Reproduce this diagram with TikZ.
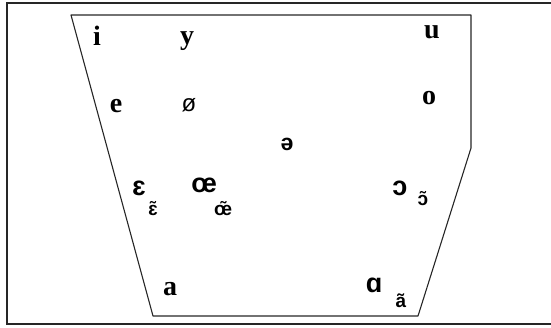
\documentclass[tikz,border=0pt]{standalone}
\usepackage{fontspec}
\setmainfont{Liberation Serif}
\newfontfamily\ipasans{Liberation Sans}
\begin{document}
\begin{tikzpicture}[x=1pt,y=-1pt,
  serifv/.style={anchor=base,inner sep=0pt,font=\fontsize{28}{30}\selectfont\bfseries},
  sansv/.style={anchor=base,inner sep=0pt,font=\ipasans\fontsize{27}{30}\selectfont\bfseries},
  schwa/.style={anchor=base,inner sep=0pt,font=\ipasans\fontsize{23}{25}\selectfont\bfseries},
  oslash/.style={anchor=base,inner sep=0pt,font=\ipasans\fontsize{24}{26}\selectfont},
  nasal/.style={anchor=base,inner sep=0pt,font=\ipasans\fontsize{19}{21}\selectfont\bfseries},
  quad/.style={draw=black!85,line width=1.1pt,line join=round},
  frame/.style={draw=black!85,line width=1.5pt}]
\useasboundingbox (0,0) rectangle (551,327);
\draw[frame] (551,3) -- (7,3) -- (7,324) -- (551,324);
\coordinate (tl) at (71,15);
\coordinate (tr) at (471,15);
\coordinate (rm) at (471,148);
\coordinate (br) at (418,316);
\coordinate (bl) at (153,316);
\draw[quad] (tl) -- (tr) -- (rm) -- (br) -- (bl) -- cycle;
\node[serifv] (i) at (97,45) {i};
\node[serifv] (y) at (187,44) {y};
\node[serifv] (u) at (432,38) {u};
\node[serifv] (e) at (116,112) {e};
\node[oslash] (oe0) at (189,111) {ø};
\node[serifv] (o) at (429,104) {o};
\node[schwa] (schwa) at (287,150) {ə};
\node[sansv] (eps) at (139,195) {ɛ};
\node[nasal] (epsn) at (153,215) {ɛ̃};
\node[sansv] (oe) at (204,192) {œ};
\node[nasal] (oen) at (223,215) {œ̃};
\node[sansv] (oo) at (400,195) {ɔ};
\node[nasal] (oon) at (423,205) {ɔ̃};
\node[serifv] (a) at (170,295) {a};
\node[sansv] (aa) at (374,292) {ɑ};
\node[nasal] (aan) at (401,307) {ã};
\end{tikzpicture}
\end{document}
